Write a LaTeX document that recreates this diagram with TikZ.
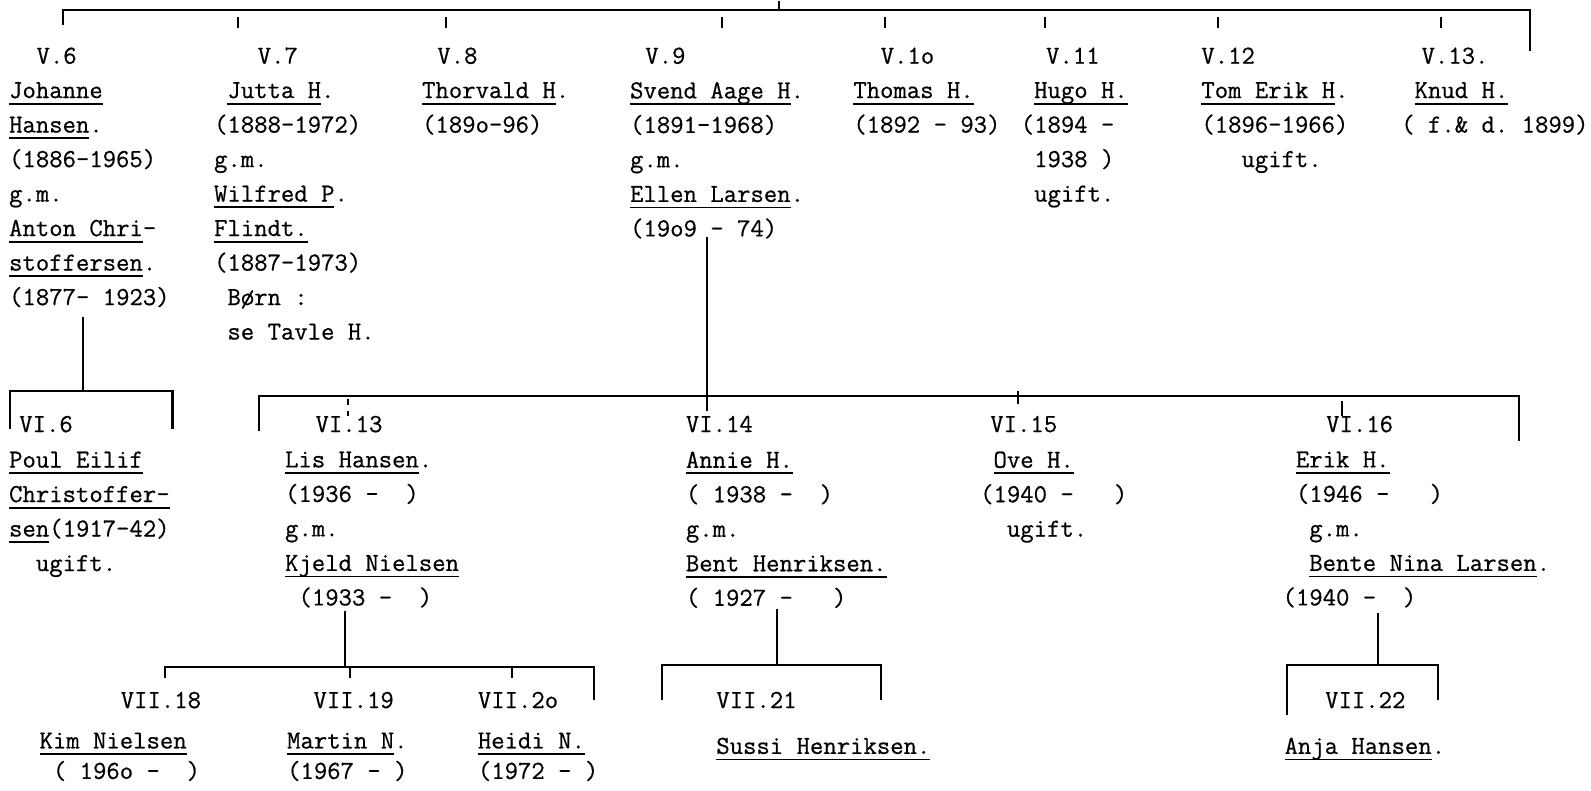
\documentclass[tikz,border=0pt]{standalone}
\usepackage{fontspec}
\setmonofont{Latin Modern Mono}[FakeBold=0.6]
\usepackage{tikz}

\newsavebox\namebox
\newcommand\nm[1]{\sbox\namebox{#1}\rlap{\rule[-3.2pt]{\wd\namebox}{0.9pt}}\usebox\namebox}

\begin{document}
\begin{tikzpicture}[x=0.5pt, y=-0.5pt, line width=1pt,
  every node/.style={inner sep=0pt, anchor=north west, align=left,
    font=\fontsize{12.8}{17}\selectfont\ttfamily, execute at begin node=\strut},
  lastrow/.style={font=\fontsize{12.8}{15}\selectfont\ttfamily}]
\useasboundingbox (0,0) rectangle (1568,779);

% generation V
\coordinate (top-a) at (62,25);
\coordinate (top-b) at (62,10);
\coordinate (top-c) at (1508,10);
\coordinate (top-d) at (1508,50);
\draw (top-a) -- (top-b) -- (top-c) -- (top-d);
\draw (768,1) -- (768,10);
\draw (235,17) -- (235,28);
\draw (440,17) -- (440,28);
\draw (712,17) -- (712,28);
\draw (872,17) -- (872,28);
\draw (1030,17) -- (1030,28);
\draw (1200,17) -- (1200,28);
\draw (1420,17) -- (1420,28);

\node (v6) at (35,38) {V.6};
\node (v7) at (253,38) {V.7};
\node (v8) at (430,38) {V.8};
\node (v9) at (635,38) {V.9};
\node (v10) at (867,38) {V.1o};
\node (v11) at (1030,38) {V.11};
\node (v12) at (1183,38) {V.12};
\node (v13) at (1400,38) {V.13.};

\node (johanne) at (8,80) {\nm{Johanne}\\\nm{Hansen}.\\(1886-1965)\\g.m.\\\nm{Anton Chri}-\\\nm{stoffersen}.\\(1877- 1923)};
\node (jutta) at (210,80) {~\nm{Jutta H}.\\(1888-1972)\\g.m.\\\nm{Wilfred P}.\\\nm{Flindt.}\\(1887-1973)\\~Børn :\\~se Tavle H.};
\node (thorvald) at (415,80) {\nm{Thorvald H}.\\(189o-96)};
\node (svend) at (620,80) {\nm{Svend Aage H}.\\(1891-1968)\\g.m.\\\nm{Ellen Larsen}.\\(19o9 - 74)};
\node (thomas) at (840,80) {\nm{Thomas H.}\\(1892 - 93)};
\node (hugo) at (1005,80) {~\nm{Hugo H.}\\(1894 -\\~1938 )\\~ugift.};
\node (tomerik) at (1183,80) {\nm{Tom Erik H}.\\(1896-1966)\\~~~ugift.};
\node (knud) at (1380,80) {~\nm{Knud H.}\\( f.\& d. 1899)};

% generation VI
\coordinate (jh-a) at (82,312);
\coordinate (jh-b) at (82,385);
\coordinate (pe-a) at (10,423);
\coordinate (pe-b) at (10,385);
\coordinate (pe-c) at (170,385);
\coordinate (pe-d) at (170,423);
\draw (jh-a) -- (jh-b);
\draw (pe-a) -- (pe-b) -- (pe-c) -- (pe-d);

\coordinate (sv-a) at (697,234);
\coordinate (sv-b) at (697,405);
\coordinate (ch-a) at (255,425);
\coordinate (ch-b) at (255,390);
\coordinate (ch-c) at (1497,390);
\coordinate (ch-d) at (1497,435);
\draw (sv-a) -- (sv-b);
\draw (ch-a) -- (ch-b) -- (ch-c) -- (ch-d);
\draw[dashed, line width=0.6pt] (343,393) -- (343,410);
\draw (1003,385) -- (1003,398);
\draw (1323,395) -- (1323,410);

\node (vi6) at (18,401) {VI.6};
\node (vi13) at (310,401) {VI.13};
\node (vi14) at (675,401) {VI.14};
\node (vi15) at (975,401) {VI.15};
\node (vi16) at (1306,401) {VI.16};

\node (poul) at (8,444) {\nm{Poul Eilif}\\\nm{Christoffer-}\\\nm{sen}(1917-42)\\~~ugift.};
\node (lis) at (280,444) {\nm{Lis Hansen}.\\(1936 -~~)\\g.m.\\\nm{Kjeld Nielsen}\\~(1933 -~~)};
\node (annie) at (675,444) {\nm{Annie H.}\\( 1938 -~~)\\g.m.\\\nm{Bent Henriksen.}\\( 1927 -~~~)};
\node (ove) at (965,444) {~\nm{Ove H.}\\(1940 -~~~)\\~~ugift.};
\node (erik) at (1263,444) {~\nm{Erik H.}\\~(1946 -~~~)\\~~g.m.\\~~\nm{Bente Nina Larsen}.\\(1940 -~~)};

% generation VII
\coordinate (kj-a) at (340,602);
\coordinate (kj-b) at (340,657);
\coordinate (kn-a) at (163,668);
\coordinate (kn-b) at (163,657);
\coordinate (kn-c) at (585,657);
\coordinate (kn-d) at (585,690);
\draw (kj-a) -- (kj-b);
\draw (kn-a) -- (kn-b) -- (kn-c) -- (kn-d);
\draw (345,657) -- (345,668);
\draw (505,657) -- (505,668);

\coordinate (bh-a) at (766,600);
\coordinate (bh-b) at (766,655);
\coordinate (sh-a) at (652,690);
\coordinate (sh-b) at (652,655);
\coordinate (sh-c) at (868,655);
\coordinate (sh-d) at (868,690);
\draw (bh-a) -- (bh-b);
\draw (sh-a) -- (sh-b) -- (sh-c) -- (sh-d);

\coordinate (bl-a) at (1358,604);
\coordinate (bl-b) at (1358,655);
\coordinate (ah-a) at (1268,705);
\coordinate (ah-b) at (1268,655);
\coordinate (ah-c) at (1417,655);
\coordinate (ah-d) at (1417,690);
\draw (bl-a) -- (bl-b);
\draw (ah-a) -- (ah-b) -- (ah-c) -- (ah-d);

\node (vii18) at (118,673) {VII.18};
\node (vii19) at (308,673) {VII.19};
\node (vii20) at (470,673) {VII.2o};
\node (vii21) at (705,673) {VII.21};
\node (vii22) at (1305,673) {VII.22};

\node[lastrow] (kim) at (38,721) {\nm{Kim Nielsen}\\~( 196o -~~)};
\node[lastrow] (martin) at (282,721) {\nm{Martin N}.\\(1967 - )};
\node[lastrow] (heidi) at (470,721) {\nm{Heidi N.}\\(1972 - )};
\node[lastrow] (sussi) at (705,721) {\nm{Sussi Henriksen.}};
\node[lastrow] (anja) at (1265,721) {\nm{Anja Hansen}.};
\end{tikzpicture}
\end{document}
